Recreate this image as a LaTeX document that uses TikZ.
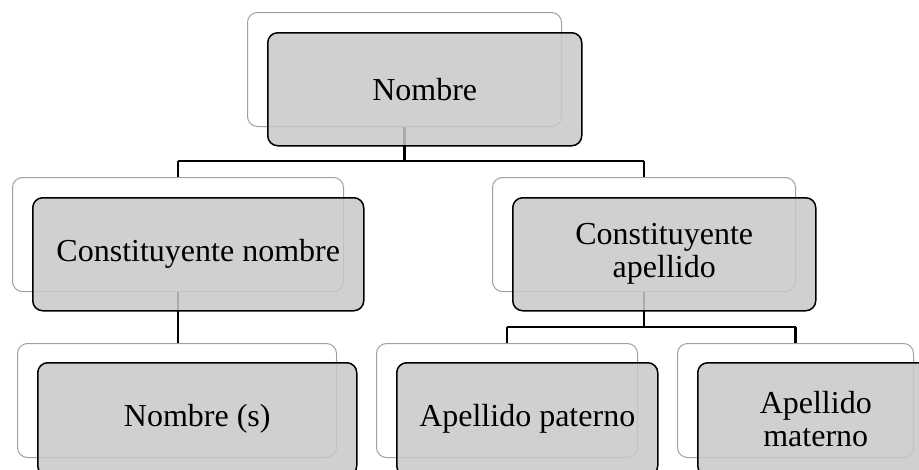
\documentclass[tikz,border=0pt]{standalone}
\usepackage{fontspec}
\setmainfont{Liberation Serif}
\definecolor{frontgray}{RGB}{200,200,200}
\definecolor{backline}{RGB}{160,160,160}
\tikzset{
  backbox/.style={draw=backline, line width=1pt, fill=white, rounded corners=10pt,
    inner sep=0pt, anchor=north west, minimum height=114pt},
  frontbox/.style={draw=black, line width=1.5pt, fill=frontgray, fill opacity=0.85,
    text opacity=1, draw opacity=1, rounded corners=10pt, inner sep=0pt,
    anchor=north west, minimum height=113pt, align=center,
    font=\fontsize{32}{33}\selectfont},
  conn/.style={draw=black, line width=2.3pt},
}
\begin{document}
\begin{tikzpicture}[x=1pt,y=-1pt]
\clip (0,0) rectangle (919,469);
\fill[white] (0,0) rectangle (919,469);
% back boxes
\node[backbox, minimum width=314pt] (tb)  at (247,12) {};
\node[backbox, minimum width=331pt] (mlb) at (12,177) {};
\node[backbox, minimum width=303pt] (mrb) at (492,177) {};
\node[backbox, minimum width=319pt] (blb) at (17,343) {};
\node[backbox, minimum width=261pt] (bmb) at (376,343) {};
\node[backbox, minimum width=236pt] (brb) at (677,343) {};
% junction coordinates
\coordinate (j1) at (0,161);
\coordinate (j2) at (0,327);
% connectors
\draw[conn] (tb.south) -- (tb.south |- j1);
\draw[conn] (mlb.north |- j1) -- (mrb.north |- j1);
\draw[conn] (mlb.north |- j1) -- (mlb.north);
\draw[conn] (mrb.north |- j1) -- (mrb.north);
\draw[conn] (mlb.south) -- (mlb.south |- blb.north);
\draw[conn] (mrb.south) -- (mrb.south |- j2);
\draw[conn] (bmb.north |- j2) -- (brb.north |- j2);
\draw[conn] (bmb.north |- j2) -- (bmb.north);
\draw[conn] (brb.north |- j2) -- (brb.north);
% front boxes
\node[frontbox, minimum width=314pt] (tf)  at (267,32) {Nombre};
\node[frontbox, minimum width=331pt] (mlf) at (32,197) {Constituyente nombre};
\node[frontbox, minimum width=303pt] (mrf) at (512,197) {Constituyente\\apellido};
\node[frontbox, minimum width=319pt] (blf) at (37,362) {Nombre (s)};
\node[frontbox, minimum width=261pt] (bmf) at (396,362) {Apellido paterno};
\node[frontbox, minimum width=236pt] (brf) at (697,362) {Apellido\\materno};
\end{tikzpicture}
\end{document}
